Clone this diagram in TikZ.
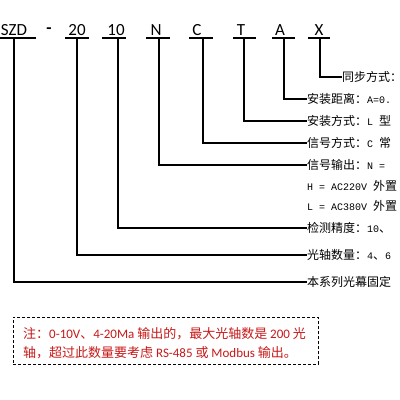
\documentclass[tikz,border=0pt]{standalone}
\usepackage{fontspec}
\setmainfont{Carlito}
\newfontfamily\cjk{Noto Sans CJK SC}
\newfontfamily\mono{Liberation Mono}
\definecolor{notered}{RGB}{200,25,25}
\begin{document}
\begin{tikzpicture}[x=1pt,y=-1pt,
  code/.style={inner sep=0pt,anchor=base,font=\fontsize{17}{19}\selectfont},
  desc/.style={inner sep=0pt,anchor=west,font=\fontsize{12}{14}\cjk},
  wire/.style={line width=1.8pt}]
\useasboundingbox (0,0) rectangle (400,400);
\clip (0,0) rectangle (400,400);
\fill[white] (0,0) rectangle (400,400);
% top code letters
\node[code] (lSZD) at (14,35) {SZD};
\node[code,font=\fontsize{17}{19}\selectfont\bfseries] (ldash) at (49,33) {-};
\node[code] (l20) at (77,35) {20};
\node[code] (l10) at (116,35) {10};
\node[code] (lN) at (156,35) {N};
\node[code] (lC) at (197,35) {C};
\node[code] (lT) at (241,35) {T};
\node[code] (lA) at (280,35) {A};
\node[code] (lX) at (319,35) {X};
% underlines
\draw[wire] (0,38) -- (36,38);
\draw[wire] (65,38) -- (89,38);
\draw[wire] (102,38) -- (126,38);
\draw[wire] (146,38) -- (170,38);
\draw[wire] (189,38) -- (213,38);
\draw[wire] (233,38) -- (256,38);
\draw[wire] (272,38) -- (295,38);
\draw[wire] (308,38) -- (330,38);
% junctions
\coordinate (jSZD) at (14,38);
\coordinate (j20) at (77,38);
\coordinate (j10) at (118,38);
\coordinate (jN) at (159,38);
\coordinate (jC) at (203,38);
\coordinate (jT) at (244,38);
\coordinate (jA) at (284,38);
\coordinate (jX) at (320,38);
% right descriptions
\node[desc] (rX) at (342,77) {同步方式：};
\node[desc] (rA) at (307,99) {安装距离：{\mono\fontsize{10}{12}\selectfont A=0.}};
\node[desc] (rT) at (307,121) {安装方式：{\mono\fontsize{10}{12}\selectfont L }型};
\node[desc] (rC) at (307,143) {信号方式：{\mono\fontsize{10}{12}\selectfont C }常};
\node[desc] (rN) at (307,165) {信号输出：{\mono\fontsize{10}{12}\selectfont N =}};
\node[desc] (rH) at (307,186) {{\mono\fontsize{10}{12}\selectfont H = AC220V }外置};
\node[desc] (rL) at (307,206) {{\mono\fontsize{10}{12}\selectfont L = AC380V }外置};
\node[desc] (r10) at (307,228) {检测精度：{\mono\fontsize{10}{12}\selectfont 10}、};
\node[desc] (r20) at (307,255) {光轴数量：{\mono\fontsize{10}{12}\selectfont 4}、{\mono\fontsize{10}{12}\selectfont 6}};
\node[desc] (rSZD) at (307,282) {本系列光幕固定};
% connectors
\draw[wire] (jX) |- (rX.west);
\draw[wire] (jA) |- (rA.west);
\draw[wire] (jT) |- (rT.west);
\draw[wire] (jC) |- (rC.west);
\draw[wire] (jN) |- (rN.west);
\draw[wire] (j10) |- (r10.west);
\draw[wire] (j20) |- (r20.west);
\draw[wire] (jSZD) |- (rSZD.west);
% note box
\node[draw,line width=0.8pt,dash pattern=on 3pt off 2pt,minimum width=305pt,minimum height=47pt,anchor=north west,inner sep=0pt] (box) at (13,317) {};
\node[inner sep=0pt,anchor=west,text=notered,font=\fontsize{13}{19}\cjk,align=left] (note) at (23,343.5)
 {注：{\rmfamily 0-10V}、{\rmfamily 4-20Ma} 输出的，最大光轴数是 {\rmfamily 200} 光\\
  轴，超过此数量要考虑 {\rmfamily RS-485} 或 {\rmfamily Modbus} 输出。};
\end{tikzpicture}
\end{document}
